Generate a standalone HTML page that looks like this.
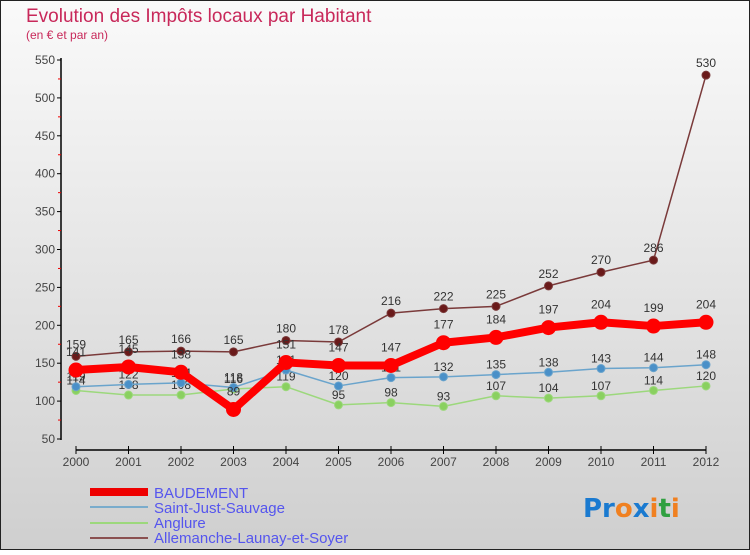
<!DOCTYPE html>
<html><head><meta charset="utf-8"><style>
body{margin:0;width:750px;height:550px;overflow:hidden;font-family:"Liberation Sans",sans-serif}
</style></head><body>
<svg width="750" height="550" xmlns="http://www.w3.org/2000/svg">
<defs><linearGradient id="bg" x1="0" y1="0" x2="0" y2="1"><stop offset="0" stop-color="#fafafa"/><stop offset="1" stop-color="#cfcfcf"/></linearGradient></defs>
<rect x="0.5" y="0.5" width="749" height="549" fill="url(#bg)" stroke="#222"/>
<text x="26" y="22" font-size="19" fill="#c8285a">Evolution des Impôts locaux par Habitant</text>
<text x="26" y="39" font-size="12" fill="#c8285a">(en € et par an)</text>
<g id="axes"></g><g id="series"></g>
<g font-size="15" fill="#5555ee">
<rect x="90" y="488" width="58" height="8" fill="#e00"/>
<text x="154" y="498">BAUDEMENT</text>
<rect x="90" y="506" width="58" height="2" fill="#7aaccc"/>
<text x="154" y="513">Saint-Just-Sauvage</text>
<rect x="90" y="522" width="58" height="2" fill="#9cd87c"/>
<text x="154" y="528">Anglure</text>
<rect x="90" y="537" width="58" height="2" fill="#8a5050"/>
<text x="154" y="543">Allemanche-Launay-et-Soyer</text>
</g>
<g font-size="26" font-weight="bold" font-family="DejaVu Sans">
<text x="583" y="517"><tspan fill="#1a7ad0">Pr</tspan><tspan fill="#f08020">o</tspan><tspan fill="#1a7ad0">x</tspan><tspan fill="#f08020">i</tspan><tspan fill="#30a040">t</tspan><tspan fill="#f08020">i</tspan></text>
</g>
</svg>
<script>
const years=[2000,2001,2002,2003,2004,2005,2006,2007,2008,2009,2010,2011,2012];
const yTicks=[50,100,150,200,250,300,350,400,450,500,550];
const baudement=[141,145,138,89,151,147,147,177,184,197,204,199,204];
const saintJust=[119,122,124,118,141,120,131,132,135,138,143,144,148];
const anglure=[114,108,108,116,119,95,98,93,107,104,107,114,120];
const allemanche=[159,165,166,165,180,178,216,222,225,252,270,286,530];
const NS="http://www.w3.org/2000/svg";
const X=i=>76+i*52.5, Y=v=>439-(v-50)*379/500;
function mk(t,a,p){const e=document.createElementNS(NS,t);for(const k in a)e.setAttribute(k,a[k]);p.appendChild(e);return e;}
const ax=document.getElementById('axes');
let l=mk('line',{x1:61,y1:58,x2:61,y2:440,stroke:'#000','stroke-width':1.5},ax);


yTicks.forEach(v=>{
 mk('line',{x1:57,x2:61,y1:Y(v),y2:Y(v),stroke:'#000'},ax);
 if(v<550)mk('line',{x1:58,x2:61,y1:Y(v+25),y2:Y(v+25),stroke:'#e00'},ax);
 const t=mk('text',{x:55,y:Y(v)+4,'text-anchor':'end','font-size':12,fill:'#444'},ax);t.textContent=v;
 
 
});
l=mk('line',{x1:76,y1:450,x2:706,y2:450,stroke:'#000','stroke-width':1.5},ax);


years.forEach((y,i)=>{
 mk('line',{x1:X(i),x2:X(i),y1:446,y2:454,stroke:'#000'},ax);
 const t=mk('text',{x:X(i),y:466,'text-anchor':'middle','font-size':12,fill:'#444'},ax);t.textContent=y;
 
 
});
const sg=document.getElementById('series');
function draw(name,d,col,w,r,fill,lab){
 const g=mk('g',{},sg);
 
 
 mk('polyline',{points:d.map((v,i)=>X(i)+','+Y(v)).join(' '),fill:'none',stroke:col,'stroke-width':w,'stroke-linejoin':'round'},g);
 d.forEach((v,i)=>{
  const c=mk('circle',{cx:X(i),cy:Y(v),r:r,fill:fill,stroke:col,'stroke-width':1},g);
  
  
  const t=mk('text',{x:X(i),y:Y(v)+lab,'text-anchor':'middle','font-size':12,fill:'#333'},g);t.textContent=v;
 });
}
draw('anglure',anglure,'#9cd87c',1.5,4,'#8ad060',-6);
draw('saint-just',saintJust,'#6aa4cc',1.5,4,'#4a90c8',-6);
draw('allemanche',allemanche,'#7a3a3a',1.5,4,'#6a1a1a',-8);
draw('baudement',baudement,'#f00',8,7,'#f00',-14);
</script>
</body></html>
